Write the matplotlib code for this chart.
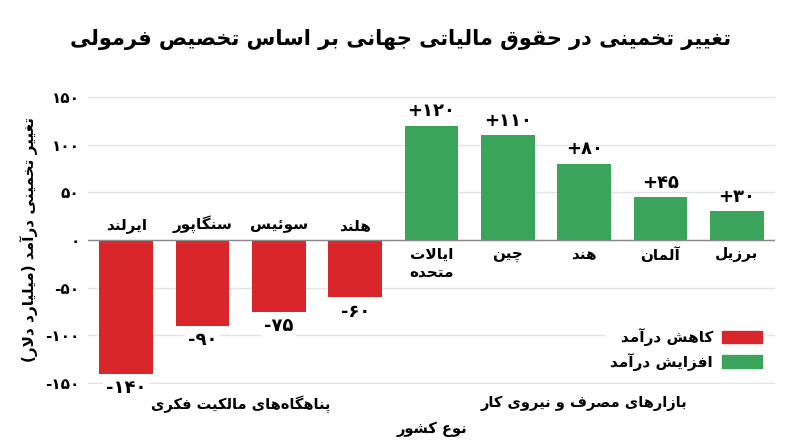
import matplotlib
matplotlib.use("Agg")
import matplotlib.pyplot as plt
from matplotlib.patches import Patch

# ---------------- data ----------------
countries = ['ایرلند', 'سنگاپور', 'سوئیس', 'هلند', 'ایالات\nمتحده', 'چین', 'هند', 'آلمان', 'برزیل']
values = [-140, -90, -75, -60, 120, 110, 80, 45, 30]
group_names = ['پناهگاه\u200cهای مالکیت فکری', 'بازارهای مصرف و نیروی کار']
group_sizes = [4, 5]
yticks = [-150, -100, -50, 0, 50, 100, 150]
title = 'تغییر تخمینی در حقوق مالیاتی جهانی بر اساس تخصیص فرمولی'
ylabel = 'تغییر تخمینی درآمد (میلیارد دلار)'
xlabel = 'نوع کشور'
legend_labels = ['کاهش درآمد', 'افزایش درآمد']

RED = '#d9262b'
GREEN = '#3aa45a'

# ---------------- minimal Persian shaping ----------------
FORMS = {
    '\u0627': ('\uFE8D', '\uFE8E', None, None),
    '\u0622': ('\uFE81', '\uFE82', None, None),
    '\u0628': ('\uFE8F', '\uFE90', '\uFE91', '\uFE92'),
    '\u062A': ('\uFE95', '\uFE96', '\uFE97', '\uFE98'),
    '\u062B': ('\uFE99', '\uFE9A', '\uFE9B', '\uFE9C'),
    '\u062C': ('\uFE9D', '\uFE9E', '\uFE9F', '\uFEA0'),
    '\u062D': ('\uFEA1', '\uFEA2', '\uFEA3', '\uFEA4'),
    '\u062E': ('\uFEA5', '\uFEA6', '\uFEA7', '\uFEA8'),
    '\u062F': ('\uFEA9', '\uFEAA', None, None),
    '\u0630': ('\uFEAB', '\uFEAC', None, None),
    '\u0631': ('\uFEAD', '\uFEAE', None, None),
    '\u0632': ('\uFEAF', '\uFEB0', None, None),
    '\u0698': ('\uFB8A', '\uFB8B', None, None),
    '\u0633': ('\uFEB1', '\uFEB2', '\uFEB3', '\uFEB4'),
    '\u0634': ('\uFEB5', '\uFEB6', '\uFEB7', '\uFEB8'),
    '\u0635': ('\uFEB9', '\uFEBA', '\uFEBB', '\uFEBC'),
    '\u0636': ('\uFEBD', '\uFEBE', '\uFEBF', '\uFEC0'),
    '\u0637': ('\uFEC1', '\uFEC2', '\uFEC3', '\uFEC4'),
    '\u0638': ('\uFEC5', '\uFEC6', '\uFEC7', '\uFEC8'),
    '\u0639': ('\uFEC9', '\uFECA', '\uFECB', '\uFECC'),
    '\u063A': ('\uFECD', '\uFECE', '\uFECF', '\uFED0'),
    '\u0641': ('\uFED1', '\uFED2', '\uFED3', '\uFED4'),
    '\u0642': ('\uFED5', '\uFED6', '\uFED7', '\uFED8'),
    '\u0643': ('\uFED9', '\uFEDA', '\uFEDB', '\uFEDC'),
    '\u06A9': ('\uFB8E', '\uFB8F', '\uFB90', '\uFB91'),
    '\u06AF': ('\uFB92', '\uFB93', '\uFB94', '\uFB95'),
    '\u0644': ('\uFEDD', '\uFEDE', '\uFEDF', '\uFEE0'),
    '\u0645': ('\uFEE1', '\uFEE2', '\uFEE3', '\uFEE4'),
    '\u0646': ('\uFEE5', '\uFEE6', '\uFEE7', '\uFEE8'),
    '\u0647': ('\uFEE9', '\uFEEA', '\uFEEB', '\uFEEC'),
    '\u0648': ('\uFEED', '\uFEEE', None, None),
    '\u064A': ('\uFEF1', '\uFEF2', '\uFEF3', '\uFEF4'),
    '\u06CC': ('\uFBFC', '\uFBFD', '\uFBFE', '\uFBFF'),
    '\u0626': ('\uFE89', '\uFE8A', '\uFE8B', '\uFE8C'),
    '\u067E': ('\uFB56', '\uFB57', '\uFB58', '\uFB59'),
    '\u0686': ('\uFB7A', '\uFB7B', '\uFB7C', '\uFB7D'),
}
LAM_ALEF = {'\u0627': ('\uFEFB', '\uFEFC'), '\u0622': ('\uFEF5', '\uFEF6')}
MIRROR = {'(': ')', ')': '('}


def is_dual(c):
    return c in FORMS and FORMS[c][2] is not None


def joins(c):
    return c in FORMS


def shape_line(s):
    out = []
    n = len(s)
    i = 0
    while i < n:
        c = s[i]
        if c not in FORMS:
            if c != '\u200c':
                out.append(MIRROR.get(c, c))
            i += 1
            continue
        prev = s[i - 1] if i > 0 else ''
        jp = i > 0 and is_dual(prev)
        if c == '\u0644' and i + 1 < n and s[i + 1] in LAM_ALEF:
            iso, fin = LAM_ALEF[s[i + 1]]
            out.append(fin if jp else iso)
            i += 2
            continue
        nxt = s[i + 1] if i + 1 < n else ''
        jn = is_dual(c) and joins(nxt)
        iso, fin, ini, med = FORMS[c]
        if jp and jn:
            out.append(med)
        elif jp:
            out.append(fin)
        elif jn:
            out.append(ini)
        else:
            out.append(iso)
        i += 1
    return ''.join(reversed(out))


def fa(s):
    return '\n'.join(shape_line(line) for line in s.split('\n'))


PDIG = str.maketrans('0123456789', '۰۱۲۳۴۵۶۷۸۹')


def fnum(v, sign=False):
    t = str(abs(v)).translate(PDIG)
    if v < 0:
        return '-' + t
    if sign and v > 0:
        return '+' + t
    return t


# ---------------- plot ----------------
plt.rcParams['font.family'] = ['DejaVu Sans']
plt.rcParams['font.weight'] = 'bold'

fig = plt.figure(figsize=(8.0, 4.47), dpi=100)
ax = fig.add_axes([88 / 800, 1 - 384 / 447, (775 - 88) / 800, (384 - 96) / 447])

x = list(range(len(values)))
colors = [RED if v < 0 else GREEN for v in values]
ax.bar(x, values, width=0.7, color=colors, zorder=2)

ax.set_xlim(-0.5, len(values) - 0.5)
ax.set_ylim(-151, 151)
ax.set_axisbelow(True)
ax.yaxis.grid(True, color='#e3e3e3', linewidth=1)
ax.axhline(0, color='#8a8a8a', linewidth=1, zorder=3)
for s in ax.spines.values():
    s.set_visible(False)

ax.set_yticks(yticks)
ax.set_yticklabels([fnum(v) for v in yticks], fontsize=11, fontweight='bold')
ax.tick_params(axis='y', length=0, pad=6)

# group labels as x ticks
centers = []
start = 0
for g in group_sizes:
    centers.append(start + (g - 1) / 2)
    start += g
ax.set_xticks(centers)
ax.set_xticklabels([fa(g) for g in group_names], fontsize=10.5, fontweight='bold')
ax.tick_params(axis='x', length=0, pad=8)

ax.set_xlabel(fa(xlabel), fontsize=10.5, fontweight='bold', labelpad=6)
ax.set_ylabel(fa(ylabel), fontsize=11, fontweight='bold', labelpad=5)

# value labels and country labels
for xi, v, name in zip(x, values, countries):
    if v < 0:
        ax.annotate(fnum(v), (xi, v), xytext=(0, -4), textcoords='offset points',
                    ha='center', va='top', fontsize=13, fontweight='bold',
                    bbox=dict(boxstyle='square,pad=0.15', fc='white', ec='none'), zorder=4)
        ax.annotate(fa(name), (xi, 0), xytext=(0, 5), textcoords='offset points',
                    ha='center', va='bottom', fontsize=11, fontweight='bold')
    else:
        ax.annotate(fnum(v, sign=True), (xi, v), xytext=(0, 4), textcoords='offset points',
                    ha='center', va='bottom', fontsize=13, fontweight='bold')
        ax.annotate(fa(name), (xi, 0), xytext=(0, -5), textcoords='offset points',
                    ha='center', va='top', fontsize=11, fontweight='bold',
                    linespacing=1.3)

handles = [Patch(color=RED), Patch(color=GREEN)]
leg = ax.legend(handles, [fa(l) for l in legend_labels], loc='lower right',
                bbox_to_anchor=(1.0, 0.0), markerfirst=False, frameon=True,
                framealpha=1, edgecolor='none', fancybox=False,
                prop={'weight': 'bold', 'size': 11},
                handlelength=2.6, handleheight=0.9, handletextpad=0.6,
                labelspacing=0.45, borderpad=0.35)

fig.text(0.5, 1 - 40 / 447, fa(title), ha='center', va='center',
         fontsize=15, fontweight='bold')

fig.savefig('out.png', dpi=100)
